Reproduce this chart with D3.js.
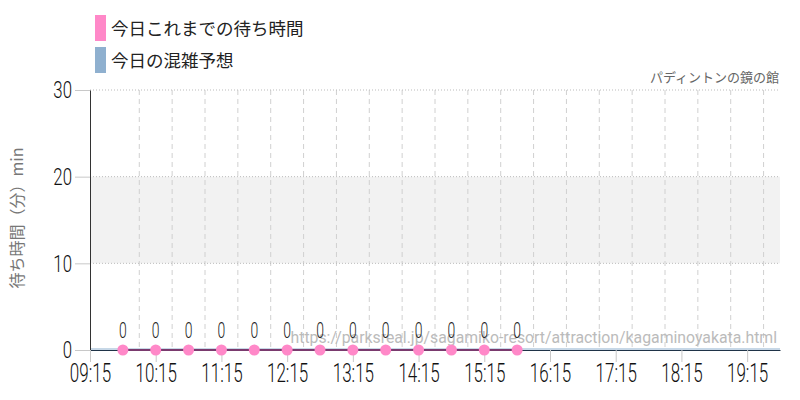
<!DOCTYPE html>
<html lang="ja">
<head>
<meta charset="UTF-8">
<script src="https://d3js.org/d3.v7.min.js"></script>
<style>
  body { margin: 0; background: #fff; }
  svg { display: block; }
  .num { font-family: Roboto, sans-serif; font-weight: 300; }
  .jp { font-family: "Noto Sans CJK JP", sans-serif; }
</style>
</head>
<body>
<script>
const times = ["09:45","10:15","10:45","11:15","11:45","12:15","12:45","13:15","13:45","14:15","14:45","15:15","15:45"];
const waits = [0,0,0,0,0,0,0,0,0,0,0,0,0];
const predTimes = ["09:15","19:45"];
const predWaits = [0, 0];
const xTickLabels = ["09:15","10:15","11:15","12:15","13:15","14:15","15:15","16:15","17:15","18:15","19:15"];
const yTicks = [0, 10, 20, 30];
const legendNames = ["今日これまでの待ち時間", "今日の混雑予想"];
const legendColors = ["#ff88c8", "#8fb0cf"];
const band = [10, 20];

const W = 800, H = 400;
const m = {left: 90, right: 20, top: 90, bottom: 50};
const parse = d3.timeParse("%H:%M");

const svg = d3.select("body").append("svg").attr("width", W).attr("height", H);

// squeeze a number label so it looks like a condensed face
function condense(sel, k) {
  sel.each(function() {
    const w = this.getComputedTextLength();
    d3.select(this).attr("textLength", w * k).attr("lengthAdjust", "spacingAndGlyphs");
  });
}

const x = d3.scaleTime()
  .domain([parse("09:15"), parse("19:45")])
  .range([m.left, W - m.right]);
const y = d3.scaleLinear().domain([0, 30]).range([H - m.bottom, m.top]);

// comfort band
svg.append("rect")
  .attr("x", x.range()[0]).attr("width", x.range()[1] - x.range()[0])
  .attr("y", y(band[1])).attr("height", y(band[0]) - y(band[1]))
  .attr("fill", "#f2f2f2");

// vertical grid every 30 min
const halfHours = d3.timeMinute.every(30).range(parse("09:15"), parse("19:46"));
svg.append("g").selectAll("line").data(halfHours.slice(1)).join("line")
  .attr("x1", d => x(d)).attr("x2", d => x(d))
  .attr("y1", y(30)).attr("y2", y(0))
  .attr("stroke", "#d0d0d0")
  .attr("stroke-dasharray", d => d.getMinutes() === 15 ? "2,2" : "5,4");

// horizontal grid
svg.append("g").selectAll("line").data(yTicks.slice(1)).join("line")
  .attr("x1", x.range()[0]).attr("x2", x.range()[1])
  .attr("y1", d => y(d)).attr("y2", d => y(d))
  .attr("stroke", "#bbb").attr("stroke-dasharray", "1,2");

// prediction line (sits just above the axis)
const pred = predTimes.map((t, i) => ({t: parse(t), v: predWaits[i]}));
svg.append("path").datum(pred)
  .attr("fill", "none").attr("stroke", legendColors[1]).attr("stroke-width", 1)
  .attr("transform", "translate(0,-1)")
  .attr("d", d3.line().x(d => x(d.t)).y(d => y(d.v)));

// y axis
const yAxis = svg.append("g").attr("transform", `translate(${m.left},0)`)
  .call(d3.axisLeft(y).tickValues(yTicks).tickSize(15).tickSizeOuter(0).tickPadding(3));
yAxis.select(".domain").attr("stroke", "#333");
yAxis.selectAll(".tick line").attr("stroke", "#c8c8c8");
yAxis.selectAll("text").attr("class", "num").attr("font-size", 24).attr("fill", "#111").call(condense, 0.7);

// x axis
const xTicks = xTickLabels.map(parse);
const xAxis = svg.append("g").attr("transform", `translate(0,${y(0)})`)
  .call(d3.axisBottom(x).tickValues(xTicks).tickFormat(d3.timeFormat("%H:%M")).tickSize(12).tickSizeOuter(0).tickPadding(2));
xAxis.select(".domain").attr("stroke", "#1f3347").attr("stroke-width", 1.2);
xAxis.selectAll(".tick line").attr("stroke", "#c8c8c8");
xAxis.selectAll("text").attr("class", "num").attr("font-size", 25).attr("fill", "#111").call(condense, 0.68);

// watermark url
svg.append("text")
  .attr("x", 777).attr("y", 343).attr("text-anchor", "end")
  .attr("font-family", "Roboto, sans-serif").attr("font-size", 15.8).attr("fill", "#bbb")
  .text("https://parksreal.jp/sagamiko-resort/attraction/kagaminoyakata.html");

// series
const pts = times.map((t, i) => ({t: parse(t), v: waits[i]}));
svg.append("path").datum(pts)
  .attr("fill", "none").attr("stroke", "#7a3a6e").attr("stroke-width", 2)
  .attr("d", d3.line().x(d => x(d.t)).y(d => y(d.v)));
svg.append("g").selectAll("circle").data(pts).join("circle")
  .attr("cx", d => x(d.t)).attr("cy", d => y(d.v)).attr("r", 5.5)
  .attr("fill", legendColors[0]);
svg.append("g").selectAll("text").data(pts).join("text")
  .attr("class", "num")
  .attr("x", d => x(d.t)).attr("y", d => y(d.v) - 12)
  .attr("text-anchor", "middle").attr("font-size", 22.5).attr("fill", "#222")
  .text(d => d.v)
  .call(condense, 0.62);

// title
svg.append("text").attr("class", "jp")
  .attr("x", 779).attr("y", 82).attr("text-anchor", "end")
  .attr("font-size", 13).attr("fill", "#666")
  .text("パディントンの鏡の館");

// y label
svg.append("text").attr("class", "jp")
  .attr("transform", "translate(23,218) rotate(-90)")
  .attr("text-anchor", "middle").attr("font-size", 16).attr("fill", "#777")
  .text("待ち時間（分）min");

// legend
const lg = svg.append("g").selectAll("g").data(legendNames).join("g")
  .attr("transform", (d, i) => `translate(95,${15 + i * 32})`);
lg.append("rect").attr("width", 11).attr("height", 26).attr("fill", (d, i) => legendColors[i]);
lg.append("text").attr("class", "jp")
  .attr("x", 16).attr("y", 20).attr("font-size", 17.5).attr("fill", "#222")
  .text(d => d);
</script>
</body>
</html>
